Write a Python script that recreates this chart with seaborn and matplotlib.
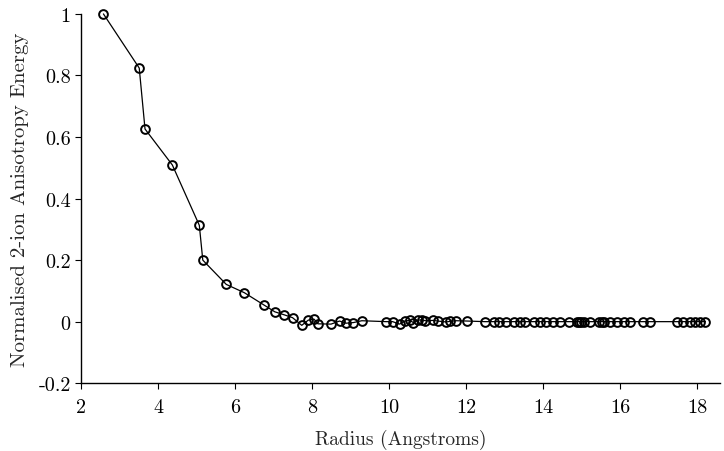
import matplotlib
matplotlib.use("Agg")
import matplotlib.pyplot as plt
import seaborn as sns

# Values
radius = [2.58, 3.51, 3.66, 4.37, 5.07, 5.16, 5.77, 6.24, 6.75, 7.03, 7.28, 7.49,
          7.73, 7.90, 8.05, 8.15, 8.49, 8.71, 8.88, 9.07, 9.29, 9.92, 10.09, 10.27,
          10.40, 10.53, 10.63, 10.76, 10.85, 10.94, 11.15, 11.26, 11.48, 11.58, 11.74,
          12.02, 12.49, 12.71, 12.86, 13.04, 13.23, 13.40, 13.52, 13.75, 13.91, 14.08,
          14.25, 14.43, 14.68, 14.87, 14.93, 14.99, 15.05, 15.22, 15.44, 15.52, 15.58,
          15.74, 15.91, 16.10, 16.26, 16.60, 16.78, 17.47, 17.64, 17.80, 17.95, 18.08,
          18.21]
energy = [1.0, 0.824, 0.626, 0.509, 0.313, 0.200, 0.121, 0.094, 0.054, 0.032, 0.022, 0.013,
          -0.012, 0.005, 0.008, -0.007, -0.008, 0.002, -0.005, -0.003, 0.003, 0.0, 0.0, -0.008,
          0.002, 0.004, -0.003, 0.005, 0.006, 0.003, 0.004, 0.002, -0.001, 0.001, 0.003,
          0.002, 0.0, 0.0, 0.0, 0.0, 0.0, 0.0, 0.0, 0.0, 0.0, 0.0,
          0.0, 0.0, 0.0, 0.0, 0.0, 0.0, 0.0, 0.0, 0.0, 0.0, 0.0,
          0.0, 0.0, 0.0, 0.0, 0.0, 0.0, 0.0, 0.0, 0.0, 0.0, 0.0,
          0.0]
x_ticks = [2, 4, 6, 8, 10, 12, 14, 16, 18]
y_ticks = [-0.2, 0, 0.2, 0.4, 0.6, 0.8, 1]
y_tick_labels = ["-0.2", "0", "0.2", "0.4", "0.6", "0.8", "1"]

sns.set_theme(style="ticks")
plt.rcParams.update({
    "font.family": ["cmr10", "DejaVu Serif"],
    "axes.unicode_minus": False,
    "mathtext.fontset": "cm",
    "xtick.labelsize": 14.5,
    "ytick.labelsize": 14.5,
    "axes.labelsize": 15,
})

fig = plt.figure(figsize=(7.24, 4.52), dpi=100)
ax = fig.add_axes([0.112, 0.150, 0.883, 0.817])

sns.lineplot(x=radius, y=energy, ax=ax, color="black", linewidth=0.9,
             marker="o", markersize=6.3, markerfacecolor="none",
             markeredgecolor="black", markeredgewidth=1.4,
             estimator=None, sort=False, clip_on=False)

ax.set_xlim(2, 18.6)
ax.set_ylim(-0.2, 1)
ax.set_xticks(x_ticks)
ax.set_xticklabels([str(t) for t in x_ticks])
ax.set_yticks(y_ticks)
ax.set_yticklabels(y_tick_labels)
ax.tick_params(direction="out", length=4, width=0.8, colors="black")
ax.tick_params(axis="x", pad=7)
ax.set_xlabel("Radius (Angstroms)", fontsize=14, labelpad=9)
ax.set_ylabel("Normalised 2-ion Anisotropy Energy", labelpad=7)
sns.despine(ax=ax)
for s in ["left", "bottom"]:
    ax.spines[s].set_color("black")
    ax.spines[s].set_linewidth(1.0)

fig.savefig("out.png", dpi=100)
